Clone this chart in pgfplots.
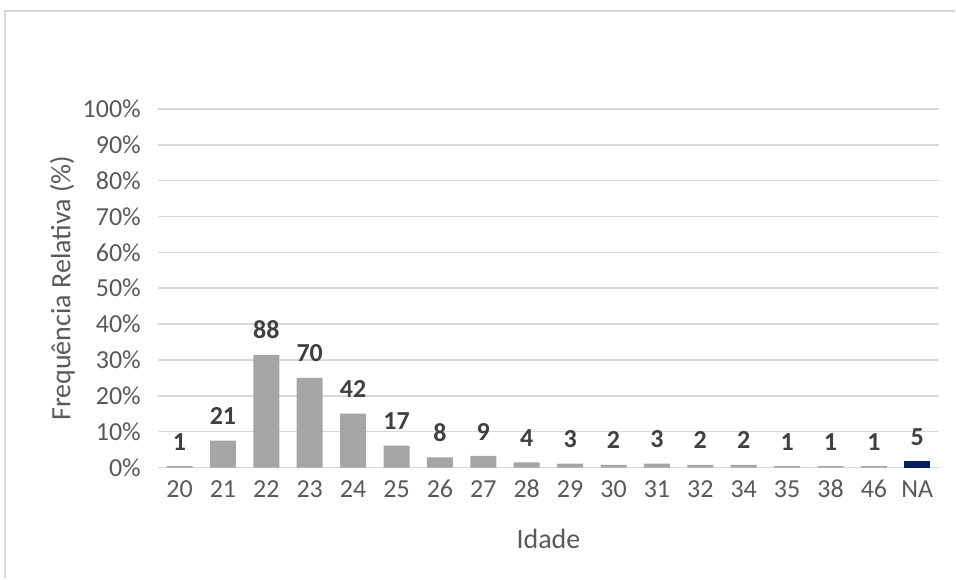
\documentclass[border=0pt]{standalone}
\usepackage{pgfplots}
\pgfplotsset{compat=1.18}
\usepackage{fontspec}
\setmainfont{Carlito}
\definecolor{bargray}{HTML}{A5A5A5}
\definecolor{navy}{HTML}{002060}
\definecolor{txtgray}{HTML}{595959}
\definecolor{lblgray}{HTML}{404040}
\definecolor{gridgray}{HTML}{D9D9D9}
\begin{document}
\begin{tikzpicture}
\begin{axis}[
  scale only axis,
  width=391pt, height=179.5pt,
  xmin=-0.5, xmax=17.5,
  ymin=0, ymax=100,
  ytick={0,10,...,100},
  xtick={0,...,17},
  xticklabels={20,21,22,23,24,25,26,27,28,29,30,31,32,34,35,38,46,NA},
  yticklabel={\pgfmathprintnumber{\tick}\%},
  /pgf/number format/assume math mode=true,
  axis line style={draw=none},
  major tick length=0pt,
  ymajorgrids,
  grid style={gridgray, line width=0.8pt},
  tick label style={font=\fontsize{13}{15}\selectfont, text=txtgray},
  yticklabel style={xshift=-5pt},
  xticklabel style={anchor=base, yshift=-15pt},
  xlabel={Idade},
  ylabel={Frequência Relativa (\%)},
  label style={font=\fontsize{14}{16}\selectfont, text=txtgray},
  xlabel style={yshift=-9pt},
  ylabel style={yshift=-3pt},
  ybar, bar width=13pt, bar shift=0pt,
  nodes near coords,
  point meta=explicit symbolic,
  nodes near coords style={font=\fontsize{13}{15}\selectfont\bfseries, text=lblgray, anchor=base, yshift=8pt},
  clip=false,
]
\addplot[fill=bargray, draw=none] table[meta=n] {
x y n
0 0.357 1
1 7.500 21
2 31.429 88
3 25.000 70
4 15.000 42
5 6.071 17
6 2.857 8
7 3.214 9
8 1.429 4
9 1.071 3
10 0.714 2
11 1.071 3
12 0.714 2
13 0.714 2
14 0.357 1
15 0.357 1
16 0.357 1
};
\addplot[fill=navy, draw=none] table[meta=n] {
x y n
17 1.786 5
};
\end{axis}
\pgfresetboundingbox
\path (-79pt,-55.5pt) rectangle (399pt,234pt);
\draw[gridgray, line width=1pt] (-76.5pt,-55.5pt) -- (-76.5pt,228.5pt) -- (399pt,228.5pt);
\end{tikzpicture}
\end{document}
